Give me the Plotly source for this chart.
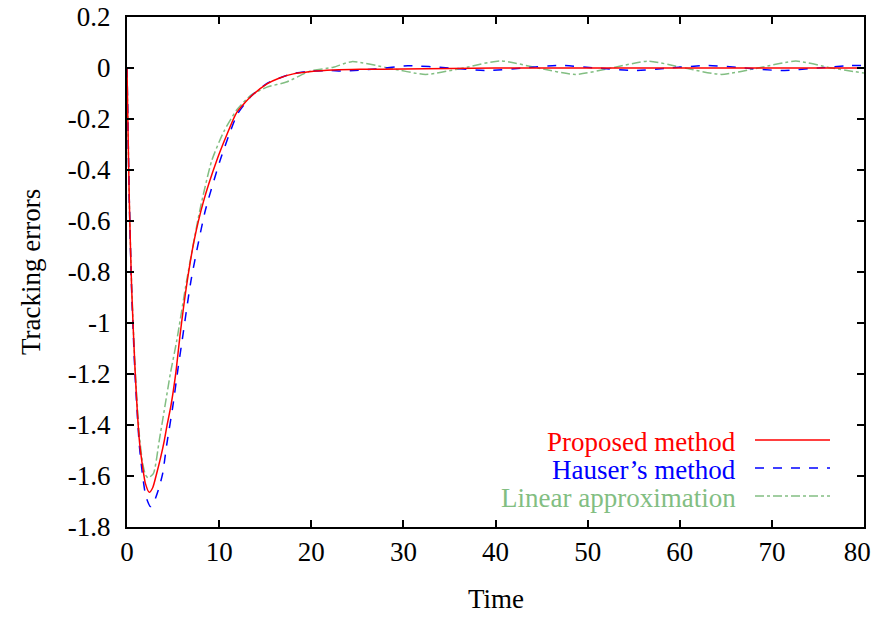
import plotly.graph_objects as go

# ---- data ----
t_prop = [0, 0.1, 0.25, 0.5, 0.87, 1.34, 1.7, 2.0, 2.42, 2.8, 3.22, 3.66, 4.05, 4.38, 4.74, 5.03,
          5.32, 5.75, 6.48, 7.27, 8.29, 9.74, 10.8, 11.9, 13.5, 15.2, 16.5, 18.06, 20, 22.4, 25.3,
          30, 35, 40, 50, 60, 70, 80]
e_prop = [0, -0.22, -0.52, -0.86, -1.18, -1.46, -1.565, -1.63, -1.664, -1.645, -1.59, -1.526,
          -1.461, -1.395, -1.33, -1.265, -1.19, -1.05, -0.85, -0.68, -0.525, -0.363, -0.265,
          -0.175, -0.11, -0.062, -0.04, -0.023, -0.014, -0.008, -0.005, -0.004, -0.002, 0, 0,
          0, 0, 0]

t_haus = [0, 0.1, 0.25, 0.5, 0.87, 1.34, 1.7, 2.05, 2.55, 2.95, 3.4, 3.87, 4.3, 4.96, 5.57,
          5.94, 6.95, 8.5, 10.1, 11.0, 12.0, 13.5, 15.2, 16.5, 18, 20, 22, 23.5, 27, 30.5, 35,
          39, 43, 47, 51, 55, 59, 63, 67, 71, 75, 78.5, 80]
e_haus = [0, -0.22, -0.52, -0.87, -1.2, -1.48, -1.6, -1.68, -1.72, -1.70, -1.655, -1.591,
          -1.48, -1.33, -1.17, -1.08, -0.833, -0.559, -0.363, -0.27, -0.18, -0.11, -0.06,
          -0.04, -0.022, -0.012, -0.01, -0.012, -0.004, 0.009, 0.0, -0.01, 0.0, 0.01, 0.0,
          -0.01, 0.0, 0.01, 0.0, -0.01, 0.0, 0.01, 0.01]

t_lin = [0, 0.1, 0.25, 0.5, 0.87, 1.34, 1.7, 2.0, 2.3, 2.86, 3.5, 4.1, 4.7, 5.4, 6.48, 7.9,
         9.2, 10.5, 11.9, 13.5, 15.2, 17.3, 19.9, 22.4, 24.4, 28.4, 32.4, 36.5, 40.5, 44.6,
         48.7, 52.6, 56.6, 60.5, 64.5, 68.5, 72.6, 76.5, 80]
e_lin = [0, -0.22, -0.52, -0.85, -1.17, -1.44, -1.55, -1.595, -1.607, -1.591, -1.461, -1.33,
         -1.2, -1.069, -0.833, -0.559, -0.363, -0.25, -0.165, -0.105, -0.075, -0.055, -0.012,
         0.003, 0.025, 0.0, -0.025, 0.0, 0.028, 0.0, -0.025, 0.0, 0.027, 0.0, -0.025, 0.0,
         0.027, 0.0, -0.02]

names = ["Proposed method", "Hauser\u2019s method", "Linear approximation"]
colors = ["#ff0000", "#0000ff", "rgb(130,190,130)"]
dashes = ["solid", "dash", "dashdot"]

x_ticks = [0, 10, 20, 30, 40, 50, 60, 70, 80]
# last label padded so it is not clipped at the window edge
x_ticktext = ["0", "10", "20", "30", "40", "50", "60", "70", "80\u00a0\u00a0"]
y_ticks = [0.2, 0, -0.2, -0.4, -0.6, -0.8, -1, -1.2, -1.4, -1.6, -1.8]
y_ticktext = ["0.2", "0", "-0.2", "-0.4", "-0.6", "-0.8", "-1", "-1.2", "-1.4", "-1.6", "-1.8"]
x_title = "Time"
y_title = "Tracking errors"

FONT = "Liberation Serif, Times New Roman, serif"
FS = 27

fig = go.Figure()
series = [(t_prop, e_prop), (t_haus, e_haus), (t_lin, e_lin)]
for i in [2, 1, 0]:
    tx, ey = series[i]
    fig.add_trace(go.Scatter(x=tx, y=ey, mode="lines", name=names[i], showlegend=False,
                             line=dict(color=colors[i], width=1.5, dash=dashes[i],
                                       shape="spline", smoothing=0.6)))

# page has an 8px body margin, so the figure starts at (8, 8)
OFF = 8
W, H = 881 - OFF, 623 - 2 * OFF
L, T = 127 - OFF, 17 - OFF
pw, ph = 737, 510
R, B = W - L - pw, H - T - ph


def px2paper(xp, yp):
    xp -= OFF
    yp -= OFF
    return (xp - L) / pw, (T + ph - yp) / ph


leg_y = [442, 470, 498]
for i in range(3):
    tx, ty = px2paper(738, leg_y[i])
    fig.add_annotation(x=tx, y=ty, xref="paper", yref="paper", text=names[i], showarrow=False,
                       xanchor="right", yanchor="middle",
                       font=dict(family=FONT, size=FS, color=colors[i]))
    x0, y0 = px2paper(755, leg_y[i] - 2)
    x1, _ = px2paper(830, leg_y[i] - 2)
    fig.add_shape(type="line", xref="paper", yref="paper", x0=x0, x1=x1, y0=y0, y1=y0,
                  line=dict(color=colors[i], width=1.5, dash=dashes[i]))

# axis titles
ax, ay = px2paper(496, 615)
fig.add_annotation(x=ax, y=ay, xref="paper", yref="paper", text=x_title, showarrow=False,
                   xanchor="center", yanchor="bottom", borderpad=0,
                   font=dict(family=FONT, size=FS, color="black"))
ax, ay = px2paper(31, 272)
fig.add_annotation(x=ax, y=ay, xref="paper", yref="paper", text=y_title, showarrow=False,
                   xanchor="center", yanchor="middle", textangle=-90,
                   font=dict(family=FONT, size=FS, color="black"))

axis_common = dict(showline=True, linecolor="black", linewidth=2, mirror="ticks",
                   ticks="inside", ticklen=7, tickwidth=1.5, tickcolor="black",
                   showgrid=False, zeroline=False, automargin=False,
                   ticklabeloverflow="allow",
                   tickfont=dict(family=FONT, size=FS, color="black"))

fig.update_xaxes(range=[0, 80], tickvals=x_ticks, ticktext=x_ticktext, ticklabelstandoff=0,
                 **axis_common)
fig.update_yaxes(range=[-1.8, 0.2], tickvals=y_ticks, ticktext=y_ticktext,
                 ticklabelstandoff=9, **axis_common)

fig.update_layout(width=W, height=H, margin=dict(l=L, r=R, t=T, b=B),
                  plot_bgcolor="white", paper_bgcolor="white", showlegend=False)

fig.write_html("out.html")
